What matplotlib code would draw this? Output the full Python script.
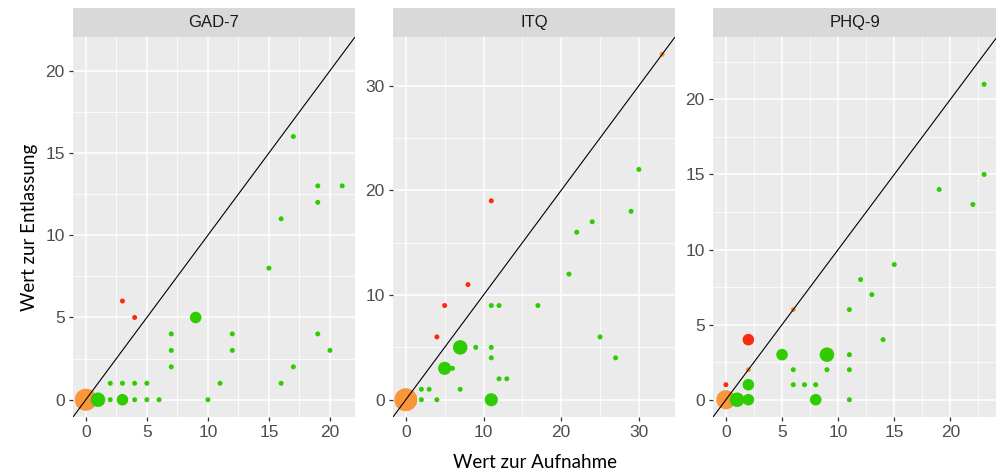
import numpy as np
import matplotlib
matplotlib.use("Agg")
import matplotlib.pyplot as plt

# scores at admission (x), discharge (y) and number of patients (n) per point
panels = ["GAD-7", "ITQ", "PHQ-9"]

gad_x = [0, 1, 2, 3, 4, 5, 6, 10, 2, 3, 4, 5, 11, 16, 7, 17, 7, 12, 20, 7, 12, 19,
         9, 3, 4, 15, 16, 19, 19, 21, 17]
gad_y = [0, 0, 0, 0, 0, 0, 0, 0, 1, 1, 1, 1, 1, 1, 2, 2, 3, 3, 3, 4, 4, 4,
         5, 6, 5, 8, 11, 12, 13, 13, 16]
gad_n = [13, 6, 1, 4, 1, 1, 1, 1, 1, 1, 1, 1, 1, 1, 1, 1, 1, 1, 1, 1, 1, 1,
         4, 1, 1, 1, 1, 1, 1, 1, 1]

itq_x = [0, 2, 4, 11, 2, 3, 7, 12, 13, 5, 6, 11, 27, 7, 9, 11, 4, 25, 5, 11, 12, 17,
         8, 21, 22, 24, 29, 11, 30, 33]
itq_y = [0, 0, 0, 0, 1, 1, 1, 2, 2, 3, 3, 4, 4, 5, 5, 5, 6, 6, 9, 9, 9, 9,
         11, 12, 16, 17, 18, 19, 22, 33]
itq_n = [14, 1, 1, 5, 1, 1, 1, 1, 1, 5, 1, 1, 1, 6, 1, 1, 1, 1, 1, 1, 1, 1,
         1, 1, 1, 1, 1, 1, 1, 1]

phq_x = [0, 1, 2, 8, 11, 0, 2, 6, 7, 8, 2, 6, 9, 11, 5, 9, 11, 2, 14, 6, 11, 13, 12, 15,
         19, 22, 23, 23]
phq_y = [0, 0, 0, 0, 0, 1, 1, 1, 1, 1, 2, 2, 2, 2, 3, 3, 3, 4, 4, 6, 6, 7, 8, 9,
         14, 13, 15, 21]
phq_n = [10, 6, 4, 4, 1, 1, 4, 1, 1, 1, 1, 1, 1, 1, 4, 6, 1, 4, 1, 1, 1, 1, 1, 1,
         1, 1, 1, 1]

major_step = {"GAD-7": 5, "ITQ": 10, "PHQ-9": 5}

GREEN = "#2ECC00"
RED = "#FA2B0C"
ORANGE = "#F9963A"
PANEL_BG = "#EBEBEB"
STRIP_BG = "#D9D9D9"

W, H = 996, 476
# panel boxes in pixels: left, right (top/bottom shared)
boxes = [(73, 355), (393, 675), (713, 997)]
TOP, BOTTOM, STRIP_TOP = 37, 417, 8


def point_sizes(n, nmax):
    n = np.asarray(n, dtype=float)
    d_px = 5 + 18 * (np.sqrt(n) - 1) / (np.sqrt(nmax) - 1)
    return (d_px * 72 / 100) ** 2


def draw_panel(fig, box, name, x, y, n, nmax):
    left, right = box
    ax = fig.add_axes([left / W, 1 - BOTTOM / H, (right - left) / W, (BOTTOM - TOP) / H])
    ax.set_facecolor(PANEL_BG)
    for s in ax.spines.values():
        s.set_visible(False)

    x = np.asarray(x)
    y = np.asarray(y)
    m = max(x.max(), y.max())
    lo, hi = -0.05 * m, 1.05 * m
    ax.set_xlim(lo, hi)
    ax.set_ylim(lo, hi)

    step = major_step[name]
    major = np.arange(0, hi, step)
    minor = np.arange(step / 2, hi, step)
    ax.set_xticks(major)
    ax.set_yticks(major)
    ax.set_xticks(minor, minor=True)
    ax.set_yticks(minor, minor=True)
    ax.grid(True, which="major", color="white", linewidth=1.1)
    ax.grid(True, which="minor", color="white", linewidth=0.55)
    ax.set_axisbelow(True)
    ax.tick_params(which="minor", length=0)
    ax.tick_params(which="major", length=3, width=0.9, color="#333333",
                   labelcolor="#4D4D4D", labelsize=12.5, pad=3)
    ax.set_xticklabels([f"{v:g}" for v in major], family="Liberation Sans")
    ax.set_yticklabels([f"{v:g}" for v in major], family="Liberation Sans")

    colors = np.where(y < x, GREEN, np.where(y > x, RED, ORANGE))
    order = np.argsort(-np.asarray(n), kind="stable")
    ax.scatter(x[order], y[order], s=point_sizes(np.asarray(n)[order], nmax),
               c=colors[order], linewidths=0, zorder=2, clip_on=True)
    ax.plot([lo, hi], [lo, hi], color="black", linewidth=0.8, zorder=3)

    strip = fig.add_axes([left / W, 1 - TOP / H, (right - left) / W, (TOP - STRIP_TOP) / H])
    strip.set_facecolor(STRIP_BG)
    strip.set_xticks([])
    strip.set_yticks([])
    for s in strip.spines.values():
        s.set_visible(False)
    strip.text(0.5, 0.5, name, ha="center", va="center", fontsize=12,
               color="#1A1A1A", family="Liberation Sans", transform=strip.transAxes)
    return ax


def run():
    fig = plt.figure(figsize=(W / 100, H / 100), dpi=100)
    nmax = max(max(gad_n), max(itq_n), max(phq_n))
    data = [(gad_x, gad_y, gad_n), (itq_x, itq_y, itq_n), (phq_x, phq_y, phq_n)]
    for box, name, (x, y, n) in zip(boxes, panels, data):
        draw_panel(fig, box, name, x, y, n, nmax)

    fig.text((73 + 996) / 2 / W, 1 - 463 / H, "Wert zur Aufnahme", ha="center", va="center",
             fontsize=13.5, family="Lato", color="black")
    fig.text(29 / W, 1 - 227 / H, "Wert zur Entlassung", ha="center", va="center",
             rotation=90, fontsize=13.5, family="Lato", color="black")
    fig.savefig("out.png", dpi=100)
    plt.close(fig)


if __name__ == "__main__":
    run()
